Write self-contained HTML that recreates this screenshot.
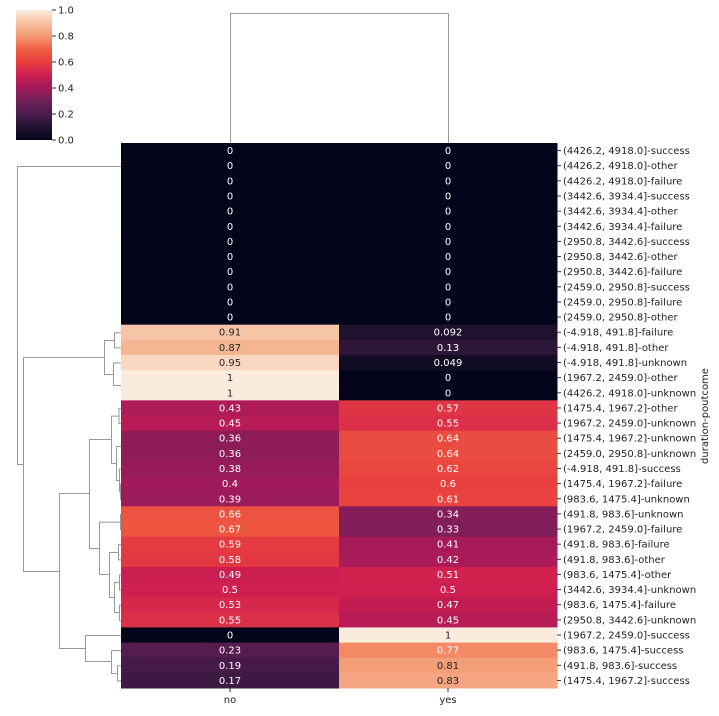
<!DOCTYPE html>
<html><head><meta charset="utf-8"><style>
html,body{margin:0;padding:0;background:#fff;}
svg text{font-family:"DejaVu Sans","Liberation Sans",sans-serif;}
</style></head><body>
<svg id="chart" width="719" height="711" xmlns="http://www.w3.org/2000/svg">
<defs>
<linearGradient id="cbgrad" x1="0" y1="1" x2="0" y2="0">
<stop offset="0" stop-color="#03051a"/><stop offset="0.1" stop-color="#221331"/><stop offset="0.2" stop-color="#4a1c4c"/>
<stop offset="0.3" stop-color="#701f57"/><stop offset="0.4" stop-color="#a11a5b"/><stop offset="0.5" stop-color="#cf1e50"/>
<stop offset="0.6" stop-color="#e83f3f"/><stop offset="0.7" stop-color="#f06043"/><stop offset="0.8" stop-color="#f49a74"/>
<stop offset="0.9" stop-color="#f6c0a0"/><stop offset="1" stop-color="#faebdd"/>
</linearGradient>
</defs>
<g id="heat"></g>
<g id="dendro" stroke="#999" stroke-width="1" fill="none"></g>
<g stroke="#999" stroke-width="1" fill="none">
<path d="M230.5,143 V13.5 H448.5 V143"/>
</g>
<g>
<rect x="16" y="10" width="36" height="130" fill="url(#cbgrad)"/>
</g>
<g id="cbticks"></g>
<g id="labels"></g>
<text x="708" y="416" font-size="10" fill="#222" text-anchor="middle" transform="rotate(-90 708 416)">duration-poutcome</text>
<g>
<line x1="230" y1="688" x2="230" y2="692" stroke="#333"/>
<line x1="448" y1="688" x2="448" y2="692" stroke="#333"/>
<text x="230" y="703" font-size="10" fill="#222" text-anchor="middle">no</text>
<text x="448" y="703" font-size="10" fill="#222" text-anchor="middle">yes</text>
</g>
</svg>
<script>
const rowLabels=["(4426.2, 4918.0]-success","(4426.2, 4918.0]-other","(4426.2, 4918.0]-failure","(3442.6, 3934.4]-success","(3442.6, 3934.4]-other","(3442.6, 3934.4]-failure","(2950.8, 3442.6]-success","(2950.8, 3442.6]-other","(2950.8, 3442.6]-failure","(2459.0, 2950.8]-success","(2459.0, 2950.8]-failure","(2459.0, 2950.8]-other","(-4.918, 491.8]-failure","(-4.918, 491.8]-other","(-4.918, 491.8]-unknown","(1967.2, 2459.0]-other","(4426.2, 4918.0]-unknown","(1475.4, 1967.2]-other","(1967.2, 2459.0]-unknown","(1475.4, 1967.2]-unknown","(2459.0, 2950.8]-unknown","(-4.918, 491.8]-success","(1475.4, 1967.2]-failure","(983.6, 1475.4]-unknown","(491.8, 983.6]-unknown","(1967.2, 2459.0]-failure","(491.8, 983.6]-failure","(491.8, 983.6]-other","(983.6, 1475.4]-other","(3442.6, 3934.4]-unknown","(983.6, 1475.4]-failure","(2950.8, 3442.6]-unknown","(1967.2, 2459.0]-success","(983.6, 1475.4]-success","(491.8, 983.6]-success","(1475.4, 1967.2]-success"];
const noValues=[0,0,0,0,0,0,0,0,0,0,0,0,0.91,0.87,0.95,1,1,0.43,0.45,0.36,0.36,0.38,0.4,0.39,0.66,0.67,0.59,0.58,0.49,0.5,0.53,0.55,0,0.23,0.19,0.17];
const yesValues=[0,0,0,0,0,0,0,0,0,0,0,0,0.092,0.13,0.049,0,0,0.57,0.55,0.64,0.64,0.62,0.6,0.61,0.34,0.33,0.41,0.42,0.51,0.5,0.47,0.45,1,0.77,0.81,0.83];
const colTicks=["0.0","0.2","0.4","0.6","0.8","1.0"];

const NS="http://www.w3.org/2000/svg";
const L=121,R=557,T=143,B=688,n=rowLabels.length,rh=(B-T)/n,cw=(R-L)/2;
const stops=[[3,5,26],[34,19,49],[74,28,76],[112,31,87],[161,26,91],[207,30,80],[232,63,63],[240,96,67],[244,154,116],[246,192,160],[250,235,221]];
function cmap(v){v=Math.max(0,Math.min(1,v));const p=v*10,i=Math.min(9,Math.floor(p)),f=p-i;
 const c=stops[i].map((a,k)=>Math.round(a+(stops[i+1][k]-a)*f));return c;}
function lum(c){const l=c.map(x=>{x/=255;return x<=0.03928?x/12.92:Math.pow((x+0.055)/1.055,2.4)});return 0.2126*l[0]+0.7152*l[1]+0.0722*l[2];}
function fmt(v){return String(+v.toPrecision(2));}
const yPos=i=>T+i*rh, xPos=j=>L+j*cw;
const heat=document.getElementById('heat'),labs=document.getElementById('labels');
for(let i=0;i<n;i++){
 [noValues[i],yesValues[i]].forEach((v,j)=>{
  const c=cmap(v);
  const r=document.createElementNS(NS,'rect');
  
  
  r.setAttribute('x',xPos(j));r.setAttribute('y',yPos(i));r.setAttribute('width',cw+0.5);r.setAttribute('height',rh+0.5);
  r.setAttribute('fill',`rgb(${c})`);heat.appendChild(r);
  const t=document.createElementNS(NS,'text');
  
  
  t.setAttribute('x',xPos(j)+cw/2);t.setAttribute('y',yPos(i)+rh/2+3.5);t.setAttribute('font-size','10');
  t.setAttribute('text-anchor','middle');t.setAttribute('fill',lum(c)>0.408?'#262626':'#ffffff');
  t.textContent=fmt(v);heat.appendChild(t);
 });
 const tk=document.createElementNS(NS,'line');
 
 
 tk.setAttribute('x1',R);tk.setAttribute('x2',R+4);tk.setAttribute('y1',yPos(i)+rh/2);tk.setAttribute('y2',yPos(i)+rh/2);tk.setAttribute('stroke','#333');labs.appendChild(tk);
 const t=document.createElementNS(NS,'text');
 
 
 t.setAttribute('x',R+6);t.setAttribute('y',yPos(i)+rh/2+3.5);t.setAttribute('font-size','10');t.setAttribute('fill','#222');
 t.textContent=rowLabels[i];labs.appendChild(t);
}
const cbt=document.getElementById('cbticks');
colTicks.forEach((s,k)=>{const y=140-(+s)*130;
 const l=document.createElementNS(NS,'line');
 
 
 l.setAttribute('x1',52);l.setAttribute('x2',56);l.setAttribute('y1',y);l.setAttribute('y2',y);l.setAttribute('stroke','#333');cbt.appendChild(l);
 const t=document.createElementNS(NS,'text');
 
 
 t.setAttribute('x',58);t.setAttribute('y',y+3.5);t.setAttribute('font-size','10');t.setAttribute('fill','#222');t.textContent=s;cbt.appendChild(t);});
const c=i=>yPos(i)+rh/2;
const links=[
 [17,166,464,121,23],
 [23,357,571,104,59],
 [104,340,374,114,113],
 [114,c(12),c(13),121,121],
 [113,c(14),385,121,121],
 [59,493,648,89,85],
 [89,439,548,111,99],
 [111,415.6,463,118.5,116],
 [118.5,c(17),c(18),121,121],
 [116,446,480,121,119],
 [119,c(21),491.4,121,120],
 [120,c(22),c(23),121,121],
 [99,521.6,574,120,109],
 [120,c(24),c(25),121,121],
 [109,552,597,118,114],
 [118,c(26),c(27),121,121],
 [114,582,612,119,119],
 [119,c(28),c(29),121,121],
 [119,c(30),c(31),121,121],
 [85,c(32),661,121,111],
 [111,c(33),673,121,117],
 [117,c(34),c(35),121,121]
];
const dg=document.getElementById('dendro');
links.forEach(a=>{const p=document.createElementNS(NS,'path');
 
 
 p.setAttribute('d',`M${a[3]},${a[1]+.5} H${a[0]+.5} V${a[2]+.5} H${a[4]}`);dg.appendChild(p);});
</script>
</body></html>
